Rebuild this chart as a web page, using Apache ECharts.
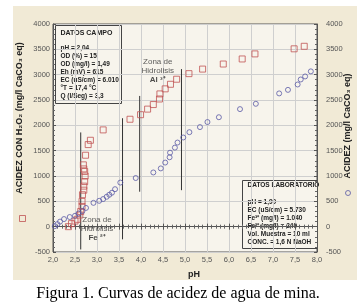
<!DOCTYPE html>
<html>
<head>
<meta charset="utf-8">
<script src="https://cdn.jsdelivr.net/npm/echarts/dist/echarts.min.js"></script>
<style>
html, body { margin: 0; padding: 0; background: #fff; }
#chart_acidez { width: 357px; height: 308px; }
</style>
</head>
<body>
<div id="chart_acidez"></div>
<script>
// acidez con H2O2 (cuadrados rojos) -> [pH, mg/l CaCO3]
var con_h2o2 = [
	[2.35, 0], [2.42, 60], [2.5, 110], [2.55, 145], [2.61, 230], [2.63, 300],
	[2.66, 400], [2.66, 500], [2.67, 630], [2.7, 720], [2.7, 800], [2.72, 890],
	[2.73, 1000], [2.72, 1090], [2.7, 1140], [2.69, 1220], [2.74, 1410], [2.8, 1620],
	[2.85, 1705], [3.14, 1910], [3.75, 2120], [3.99, 2210], [4.15, 2320], [4.28, 2410],
	[4.42, 2520], [4.43, 2620], [4.55, 2720], [4.67, 2810], [4.81, 2910], [5.09, 3020],
	[5.4, 3110], [5.87, 3210], [6.3, 3310], [6.59, 3410], [7.48, 3510], [7.71, 3560]
];
// acidez sin H2O2 (circulos azules)
var sin_h2o2 = [
	[2.04, 10], [2.1, 50], [2.16, 100], [2.25, 150], [2.38, 190], [2.5, 215],
	[2.58, 260], [2.67, 310], [2.75, 370], [2.92, 470], [3.05, 510], [3.14, 545],
	[3.22, 590], [3.28, 630], [3.34, 670], [3.41, 740], [3.53, 870], [3.88, 960],
	[4.28, 1070], [4.45, 1150], [4.55, 1265], [4.65, 1370], [4.66, 1460], [4.77, 1560],
	[4.83, 1660], [4.96, 1760], [5.1, 1865], [5.34, 1965], [5.51, 2065], [5.77, 2160],
	[6.25, 2320], [6.61, 2425], [7.14, 2630], [7.34, 2700], [7.56, 2806], [7.63, 2905],
	[7.73, 2965], [7.86, 3065]
];
// lineas verticales de las zonas: [pH, desde, hasta]
var zone_lines = [
	[2.63, -450, 1860],
	[3.58, -250, 2140],
	[3.97, 690, 2580],
	[4.92, 720, 3110]
];
// etiquetas de zonas: [pH, acidez, ion]
var zone_labels = [
	[3.0, -45, 'Fe', '²⁺'],
	[4.38, 3077, 'Al', '³⁺']
];
var datos_campo = ['pH = 2,04', 'OD (%) = 15', 'OD (mg/l) = 1,49', 'Eh (mV) = 615',
	'EC (uS/cm) = 6.010', '°T = 17,4 °C', 'Q (l/Seg) = 3,3'];
var datos_lab = ['pH = 1,99', 'EC (uS/cm) = 5.730', 'Fe³⁺ (mg/l) = 1.040', 'Fe²⁺ (mg/l) = 240',
	'Vol. Muestra = 10 ml', 'CONC. = 1,6 N NaOH'];

var ph_min = 2, ph_max = 8, acid_min = -500, acid_max = 4000;
var red_c = '#c05454', blue_c = '#5a5aa6';
var txt_font = 'Liberation Sans';
var box_fill = '#f7f4ec';

var chart = echarts.init(document.getElementById('chart_acidez'));

var axis_common = {
	axisLine: { show: true, lineStyle: { color: '#555' } },
	axisTick: { show: true, inside: true, length: 3, lineStyle: { color: '#555' } },
	minorTick: { show: true, splitNumber: 5, length: 2, lineStyle: { color: '#666' } },
	splitLine: { show: false }
};

var zone_series = zone_lines.map(z => ({
	type: 'line',
	data: [[z[0], z[1]], [z[0], z[2]]],
	symbol: 'none',
	silent: true,
	lineStyle: { color: '#333', width: 1 },
	z: 1
}));

// una linea de texto por elemento, para controlar el interlineado
function box_lines(lines, x0, y0, step) {
	return lines.map((t, i) => ({
		type: 'text', x: x0, y: y0 + i * step,
		style: { text: t, font: 'bold 6.5px ' + txt_font, fill: '#222', verticalAlign: 'middle' }
	}));
}

chart.setOption({
	backgroundColor: '#fff',
	animation: false,
	graphic: [
		{ type: 'rect', shape: { x: 13, y: 6, width: 344, height: 274 }, style: { fill: '#f1ead6' }, z: -10 },
		{ type: 'text', x: 20, y: 118, rotation: Math.PI / 2,
			style: { text: 'ACIDEZ CON H₂O₂ (mg/l CaCO₃ eq)', font: 'bold 9px ' + txt_font, fill: '#222', align: 'center', verticalAlign: 'middle' } },
		{ type: 'text', x: 348, y: 126, rotation: Math.PI / 2,
			style: { text: 'ACIDEZ (mg/l CaCO₃ eq)', font: 'bold 9px ' + txt_font, fill: '#222', align: 'center', verticalAlign: 'middle' } },
		{ type: 'text', x: 194, y: 275,
			style: { text: 'pH', font: 'bold 9px ' + txt_font, fill: '#222', align: 'center', verticalAlign: 'middle' } },
		{ type: 'text', x: 178, y: 294,
			style: { text: 'Figura 1. Curvas de acidez de agua de mina.', font: '16px "Liberation Serif"', fill: '#000', align: 'center', verticalAlign: 'middle' } },
		// cuadro datos campo
		{ type: 'group', left: 55, top: 25, children: [
			{ type: 'rect', shape: { x: 0, y: 0, width: 66, height: 78 }, style: { fill: box_fill, stroke: '#444', lineWidth: 1 } },
			{ type: 'text', x: 5, y: 8, style: { text: 'DATOS CAMPO', font: 'bold 7px ' + txt_font, fill: '#222', verticalAlign: 'middle' } }
		].concat(box_lines(datos_campo, 5, 23, 8)) },
		// cuadro datos laboratorio
		{ type: 'group', left: 242, top: 180, children: [
			{ type: 'rect', shape: { x: 0, y: 0, width: 75, height: 68 }, style: { fill: box_fill, stroke: '#444', lineWidth: 1 } },
			{ type: 'text', x: 5, y: 5, style: { text: 'DATOS LABORATORIO', font: 'bold 6.5px ' + txt_font, fill: '#222', verticalAlign: 'middle' } }
		].concat(box_lines(datos_lab, 5, 22, 8)) }
	],
	legend: [
		{ data: ['Acidez con H2O2'], left: 19, top: 215, padding: 0, icon: 'rect', itemWidth: 6, itemHeight: 6,
			itemStyle: { color: 'rgba(0,0,0,0)', borderColor: red_c, borderWidth: 1 }, formatter: () => '', selectedMode: false },
		{ data: ['Acidez'], left: 345, top: 190, padding: 0, icon: 'circle', itemWidth: 5, itemHeight: 5,
			itemStyle: { color: 'rgba(0,0,0,0)', borderColor: blue_c, borderWidth: 1 }, formatter: () => '', selectedMode: false }
	],
	grid: {
		left: 53, right: 40, top: 24, bottom: 56,
		show: true, backgroundColor: box_fill, borderColor: '#555', borderWidth: 1
	},
	xAxis: [
		Object.assign({}, axis_common, {
			type: 'value', min: ph_min, max: ph_max, interval: 0.5,
			splitLine: { show: true, lineStyle: { color: '#cfcfcf' } },
			axisLabel: { fontSize: 7.5, fontFamily: txt_font, color: '#555', margin: 4,
				formatter: v => v.toFixed(1).replace('.', ',') }
		}),
		Object.assign({}, axis_common, {
			type: 'value', position: 'top', min: ph_min, max: ph_max, interval: 0.5,
			axisLabel: { show: false }
		})
	],
	yAxis: [
		Object.assign({}, axis_common, {
			type: 'value', min: acid_min, max: acid_max, interval: 500,
			splitLine: { show: true, lineStyle: { color: '#cfcfcf' } },
			axisLabel: { fontSize: 7.5, fontFamily: txt_font, color: '#555', margin: 3, formatter: v => String(v) }
		}),
		Object.assign({}, axis_common, {
			type: 'value', position: 'right', min: acid_min, max: acid_max, interval: 500,
			axisLabel: { fontSize: 7.5, fontFamily: txt_font, color: '#555', margin: 9, formatter: v => String(v) }
		})
	],
	series: zone_series.concat([
		{
			name: 'Acidez con H2O2', type: 'scatter', yAxisIndex: 0,
			symbol: 'rect', symbolSize: 6,
			itemStyle: { color: 'rgba(0,0,0,0)', borderColor: red_c, borderWidth: 1 },
			data: con_h2o2, z: 3
		},
		{
			name: 'Acidez', type: 'scatter', yAxisIndex: 1,
			symbol: 'circle', symbolSize: 5,
			itemStyle: { color: 'rgba(0,0,0,0)', borderColor: blue_c, borderWidth: 1 },
			data: sin_h2o2, z: 3
		},
		{
			type: 'scatter', symbolSize: 0, silent: true, z: 4,
			data: zone_labels.map(l => ({ value: [l[0], l[1]], ion: l[2], charge: l[3] })),
			label: {
				show: true, position: 'inside', align: 'center', verticalAlign: 'middle',
				formatter: p => '{n|Zona de}\n{n|Hidrolisis}\n{b|' + p.data.ion + ' ' + p.data.charge + '}',
				rich: {
					n: { fontSize: 8, fontFamily: txt_font, color: '#333', lineHeight: 9 },
					b: { fontSize: 8, fontWeight: 'bold', fontFamily: txt_font, color: '#222', lineHeight: 9 }
				}
			}
		}
	])
});
</script>
</body>
</html>
